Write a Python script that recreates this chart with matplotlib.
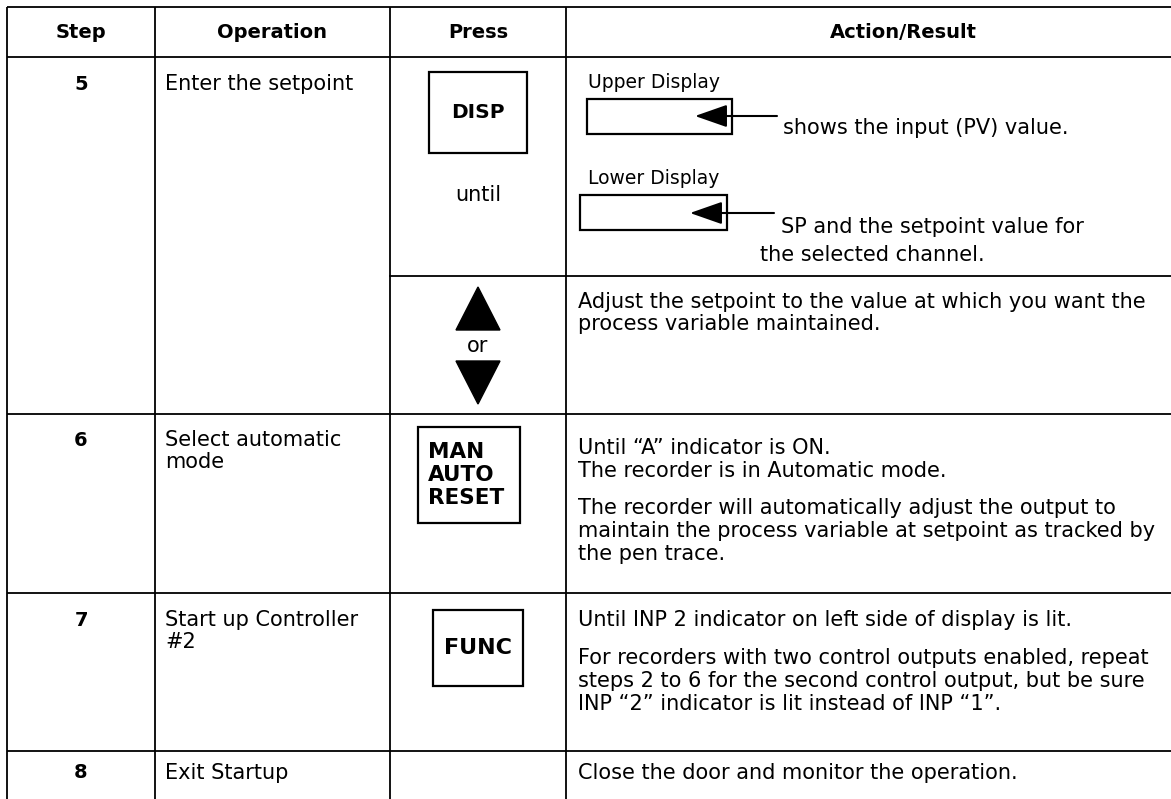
import matplotlib.pyplot as plt
from matplotlib.patches import Rectangle, Polygon

plt.rcParams['font.family'] = ['DejaVu Sans']

# table content
headers = ["Step", "Operation", "Press", "Action/Result"]
steps = ["5", "6", "7", "8"]
operations = [["Enter the setpoint"],
              ["Select automatic", "mode"],
              ["Start up Controller", "#2"],
              ["Exit Startup"]]
keys = ["DISP", "MAN\nAUTO\nRESET", "FUNC"]
display_labels = ["Upper Display", "Lower Display"]
display_notes = [["shows the input (PV) value."],
                 ["SP and the setpoint value for", "the selected channel."]]
adjust_text = ["Adjust the setpoint to the value at which you want the",
               "process variable maintained."]
row6_text = ["Until \u201cA\u201d indicator is ON.",
             "The recorder is in Automatic mode.",
             "The recorder will automatically adjust the output to",
             "maintain the process variable at setpoint as tracked by",
             "the pen trace."]
row7_text = ["Until INP 2 indicator on left side of display is lit.",
             "For recorders with two control outputs enabled, repeat",
             "steps 2 to 6 for the second control output, but be sure",
             "INP \u201c2\u201d indicator is lit instead of INP \u201c1\u201d."]
row8_text = ["Close the door and monitor the operation."]

W, H = 1171, 799
fig = plt.figure(figsize=(W / 100, H / 100), dpi=100)
ax = fig.add_axes([0, 0, 1, 1])
ax.set_xlim(0, W)
ax.set_ylim(H, 0)
ax.axis("off")

FS = 15
LW = 1.3
col_x = [7, 155, 390, 566, 1240]
row_y = [7, 57, 414, 593, 751]
row_text_y = [84, 440, 620, 773]

# grid
for y in row_y:
    ax.plot([col_x[0], W], [y, y], color="black", lw=LW, solid_capstyle="butt")
for x in col_x[:4]:
    ax.plot([x, x], [row_y[0], H], color="black", lw=LW, solid_capstyle="butt")
ax.plot([col_x[2], W], [276, 276], color="black", lw=LW)

# header
for i, h in enumerate(headers):
    ax.text((col_x[i] + col_x[i + 1]) / 2, 33, h, ha="center", va="center",
            fontsize=14, fontweight="bold")

# step numbers and operations
for i, s in enumerate(steps):
    ax.text((col_x[0] + col_x[1]) / 2, row_text_y[i], s, ha="center", va="center",
            fontsize=14, fontweight="bold")
    for j, line in enumerate(operations[i]):
        ax.text(165, row_text_y[i] + j * 22, line, ha="left", va="center", fontsize=FS)

# keys
ax.add_patch(Rectangle((429, 72), 98, 81, fill=False, lw=1.6))
ax.text(478, 112, keys[0], ha="center", va="center", fontsize=14.5, fontweight="bold")
ax.text(478, 195, "until", ha="center", va="center", fontsize=FS)

ax.add_patch(Polygon([[478, 287], [456, 330], [500, 330]], closed=True, color="black"))
ax.text(478, 346, "or", ha="center", va="center", fontsize=FS)
ax.add_patch(Polygon([[456, 361], [500, 361], [478, 404]], closed=True, color="black"))

ax.add_patch(Rectangle((418, 427), 102, 96, fill=False, lw=1.6))
for j, line in enumerate(keys[1].split("\n")):
    ax.text(428, 452 + j * 23, line, ha="left", va="center", fontsize=15.5, fontweight="bold")

ax.add_patch(Rectangle((433, 610), 90, 76, fill=False, lw=1.6))
ax.text(478, 648, keys[2], ha="center", va="center", fontsize=16, fontweight="bold")

# display diagrams
boxes = [(587, 99, 145, 35), (580, 195, 147, 35)]
label_y = [83, 178]
arrows = [(695, 777, 116), (690, 774, 213)]
note_pos = [[(783, 128)], [(781, 227), (760, 255)]]
for k in range(2):
    ax.text(588, label_y[k], display_labels[k], ha="left", va="center", fontsize=13.5)
    bx, by, bw, bh = boxes[k]
    ax.add_patch(Rectangle((bx, by), bw, bh, fill=False, lw=1.6))
    tip, end, ay = arrows[k]
    ax.annotate("", xy=(tip, ay), xytext=(end, ay),
                arrowprops=dict(arrowstyle="-|>,head_length=1.0,head_width=0.35",
                                mutation_scale=20, lw=1.5, color="black",
                                shrinkA=0, shrinkB=0))
    for (tx, ty), line in zip(note_pos[k], display_notes[k]):
        ax.text(tx, ty, line, ha="left", va="center", fontsize=FS)

# action text
AX = 578
for j, line in enumerate(adjust_text):
    ax.text(AX, 302 + j * 22, line, ha="left", va="center", fontsize=FS)
for line, y in zip(row6_text, [448, 471, 508, 531, 554]):
    ax.text(AX, y, line, ha="left", va="center", fontsize=FS)
for line, y in zip(row7_text, [620, 658, 681, 704]):
    ax.text(AX, y, line, ha="left", va="center", fontsize=FS)
ax.text(AX, 773, row8_text[0], ha="left", va="center", fontsize=FS)

fig.savefig("out.png", dpi=100, facecolor="white")
